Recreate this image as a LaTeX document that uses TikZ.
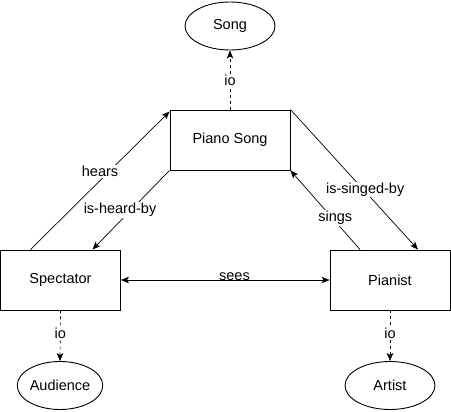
\documentclass[tikz,border=0pt]{standalone}
\usepackage{fontspec}
\setmainfont{Liberation Sans}
\usetikzlibrary{shapes.geometric,arrows.meta}
\begin{document}
\begin{tikzpicture}[x=1pt,y=-1pt,
  every node/.style={font=\fontsize{14.5}{17}\selectfont},
  box/.style={draw,line width=0.9pt,rectangle,minimum width=120pt,minimum height=60pt,inner sep=0pt},
  oval/.style={draw,line width=0.9pt,ellipse,minimum height=48pt,inner sep=0pt},
  conn/.style={line width=0.7pt,-{Stealth[length=8pt,width=6.5pt,inset=2pt]}},
  ioline/.style={conn,dash pattern=on 3pt off 3pt},
  lbl/.style={fill=white,inner sep=1pt}]
\useasboundingbox (0,0) rectangle (451,412);
\node[box] (piano) at (230,140) {Piano Song};
\node[box] (spect) at (60.5,280) {Spectator};
\node[box] (pianist) at (390,280) {Pianist};
\node[oval,minimum width=90pt] (song) at (230,26) {Song};
\node[oval,minimum width=80pt] (aud) at (60,385.5) {Audience};
\node[oval,minimum width=90pt] (artist) at (390,385.5) {Artist};
\draw[conn] ([xshift=-30pt]spect.north) -- ([yshift=-2pt]piano.north west)
  node[lbl,pos=0.5,yshift=9pt] {hears};
\draw[conn] (piano.south west) -- ([xshift=32pt]spect.north)
  node[lbl,pos=0.5,xshift=-11pt] {is-heard-by};
\draw[conn] (piano.north east) -- ([xshift=28pt]pianist.north)
  node[lbl,pos=0.5,xshift=11pt,yshift=-10pt] {is-singed-by};
\draw[conn] ([xshift=-30pt]pianist.north) -- (piano.south east)
  node[lbl,pos=0.5,xshift=10pt,yshift=-8pt] {sings};
\node[inner sep=0pt] (seeslbl) at (234.5,277) {sees};
\draw[line width=0.7pt,{Stealth[length=8pt,width=6.5pt,inset=2pt]}-{Stealth[length=8pt,width=6.5pt,inset=2pt]}] (spect.east) -- (pianist.west);
\draw[ioline] (piano.north) -- (song.south) node[lbl,midway] {io};
\draw[ioline] (spect.south) -- (aud.north) node[lbl,midway,yshift=2pt] {io};
\draw[ioline] (pianist.south) -- (artist.north) node[lbl,midway,yshift=2pt] {io};
\end{tikzpicture}
\end{document}
